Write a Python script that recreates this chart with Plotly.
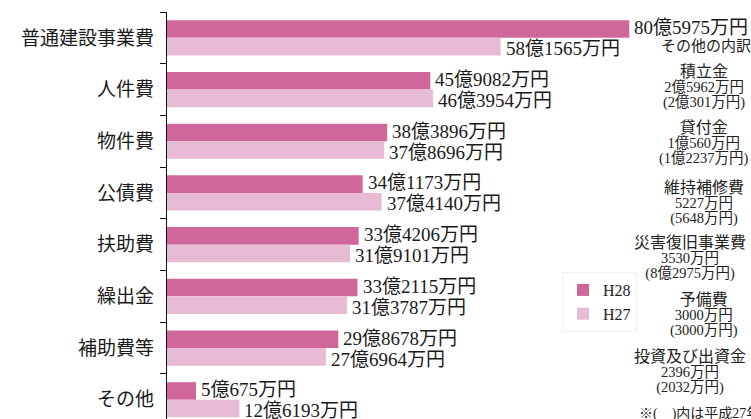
import plotly.graph_objects as go

categories = ["普通建設事業費", "人件費", "物件費", "公債費", "扶助費", "繰出金", "補助費等", "その他"]
h28_man = [805975, 459082, 383896, 341173, 334206, 332115, 298678, 50675]
h27_man = [581565, 463954, 378696, 374140, 319101, 313787, 276964, 126193]
series_names = ["H28", "H27"]

note_title = "その他の内訳"
note_items = ["積立金", "貸付金", "維持補修費", "災害復旧事業費", "予備費", "投資及び出資金"]
note_h28 = ["2億5962万円", "1億560万円", "5227万円", "3530万円", "3000万円", "2396万円"]
note_h27 = ["(2億301万円)", "(1億2237万円)", "(5648万円)", "(8億2975万円)", "(3000万円)", "(2032万円)"]
note_foot = "※(　)内は平成27年度"


def fmt(v):
    oku, man = divmod(v, 10000)
    return f"{oku}億{man}万円" if oku else f"{man}万円"


FONT = "Liberation Serif, Noto Sans CJK JP"
C28 = "#d0679a"
C27 = "#e8bbd4"
TXT = "#1a1a1a"

fig = go.Figure()
anns = []
for name, vals, col, ysh in [(series_names[0], h28_man, C28, 10), (series_names[1], h27_man, C27, -11)]:
    xs = [v / 10000 for v in vals]
    fig.add_trace(go.Bar(
        y=categories, x=xs, orientation="h", name=name,
        marker=dict(color=col, line=dict(width=0)),
        hoverinfo="skip",
    ))
    for c, xv, v in zip(categories, xs, vals):
        anns.append(dict(x=xv, y=c, xref="x", yref="y", text=fmt(v), showarrow=False,
                         xanchor="left", yanchor="middle", xshift=3, yshift=ysh,
                         font=dict(family=FONT, size=19, color=TXT)))

W, L, T, H = 751, 167, 12, 419
pw, ph = W - L, H - T


def px_to_paper(xp, yp):
    return (xp - L) / pw, (H - yp) / ph


cx = 704
x0, y0 = px_to_paper(706, 46)
anns.append(dict(x=x0, y=y0, text=note_title, xref="paper", yref="paper", showarrow=False,
                 xanchor="center", yanchor="middle", font=dict(family=FONT, size=15, color="#222")))
ys = [72, 128, 188, 243, 300, 357]
for name, a, b, yy in zip(note_items, note_h28, note_h27, ys):
    xc = cx if len(name) <= 5 else 690
    xa, ya = px_to_paper(xc, yy + 15)
    txt = (f'<span style="font-size:16px">{name}</span><br>'
           f'<span style="font-size:14.5px">{a}</span><br>'
           f'<span style="font-size:14.5px">{b}</span>')
    anns.append(dict(x=xa, y=ya, text=txt, xref="paper", yref="paper", showarrow=False,
                     xanchor="center", yanchor="middle", align="center",
                     font=dict(family=FONT, size=11.54, color="#222")))
xa, ya = px_to_paper(637, 414)
anns.append(dict(x=xa, y=ya, text=note_foot, xref="paper", yref="paper", showarrow=False,
                 xanchor="left", yanchor="middle", font=dict(family=FONT, size=14, color="#222")))

lx, ly = px_to_paper(562, 272)
fig.update_layout(
    width=W, height=H,
    margin=dict(l=L, r=0, t=T, b=0, pad=0),
    paper_bgcolor="white", plot_bgcolor="white",
    barmode="group", bargap=0.32, bargroupgap=0.0,
    showlegend=True,
    legend=dict(x=lx, y=ly, xanchor="left", yanchor="top", traceorder="normal",
                font=dict(family=FONT, size=16, color="#222"),
                bgcolor="white", bordercolor="#f0f0f0", borderwidth=1,
                itemwidth=30, tracegroupgap=0),
    annotations=anns,
    xaxis=dict(range=[0, (W - L) / 5.736], showticklabels=False, showgrid=False,
               zeroline=False, showline=False, fixedrange=True),
    yaxis=dict(range=[-0.5 + ph / 51.7, -0.5], showgrid=False, zeroline=False,
               showline=True, linecolor="#111", linewidth=1.2,
               ticks="outside", ticklen=6, tickcolor="#111", tickwidth=1.2,
               tickson="boundaries", ticklabelstandoff=8,
               tickfont=dict(family=FONT, size=19, color=TXT),
               automargin=False, fixedrange=True),
)
fig.write_html("out.html", config={"displayModeBar": False})

with open("out.html", encoding="utf-8") as f:
    html = f.read()
html = html.replace("<body>", '<body style="margin:0;padding:0;overflow:hidden">', 1)
with open("out.html", "w", encoding="utf-8") as f:
    f.write(html)
